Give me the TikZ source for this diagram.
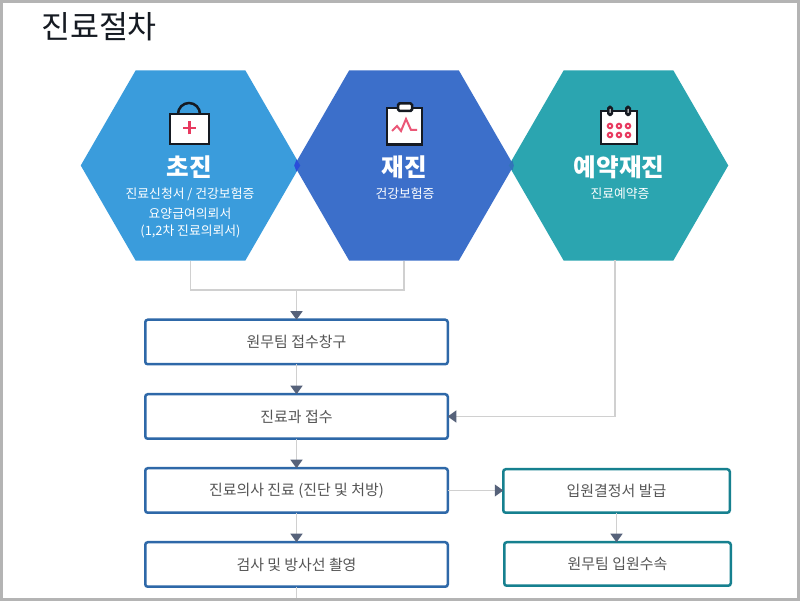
\documentclass[tikz,border=0pt]{standalone}
\usepackage{fontspec}
\setmainfont{Noto Sans CJK KR}
\usepackage{xcolor}
\usepackage{tikz}
\usetikzlibrary{shapes.geometric,arrows.meta}
\definecolor{framec}{HTML}{B4B4B4}
\definecolor{linec}{HTML}{D0D0D0}
\definecolor{tipc}{HTML}{56627A}
\definecolor{textc}{HTML}{555555}
\definecolor{bluec}{HTML}{2E68A8}
\definecolor{tealc}{HTML}{16808F}
\definecolor{hexa}{HTML}{3A9CDC}
\definecolor{hexb}{HTML}{3C6FCA}
\definecolor{hexc}{HTML}{2BA5B0}
\definecolor{iconc}{HTML}{151A22}
\definecolor{redc}{HTML}{E8395F}
\tikzset{hex/.style={regular polygon,regular polygon sides=6,minimum size=4.39cm,inner sep=0,outer sep=0}}
\tikzset{hextitle/.style={text=white,font=\fontsize{14}{16}\selectfont\bfseries,inner sep=0}}
\tikzset{hexsub/.style={text=white,font=\fontsize{7.3}{9}\selectfont,inner sep=0}}
\tikzset{flow/.style={draw=bluec,line width=0.05cm,rounded corners=0.05cm,fill=white,minimum width=6.05cm,minimum height=0.89cm,inner sep=0,outer sep=0,text=textc,font=\fontsize{8.5}{10}\selectfont}}
\tikzset{ward/.style={flow,draw=tealc,minimum width=4.53cm,minimum height=0.87cm}}
\tikzset{conn/.style={draw=linec,line width=0.6pt}}
\tikzset{arr/.style={conn,-{Triangle[color=tipc,length=0.17cm,width=0.24cm]}}}
\tikzset{icon/.style={draw=iconc,line width=0.05cm,fill=white}}

\begin{document}
\begin{tikzpicture}
    \useasboundingbox (0,0) rectangle (16,12.02);
    \fill[framec] (0,0) rectangle (16,12.02);
    \fill[white] (0.06,0.06) rectangle (15.94,11.96);

    \node[text=iconc,font=\fontsize{17.9}{20}\selectfont,inner sep=0] (title)at (1.98,11.49) {진료절차};

    \node[hex,fill=hexa] (chojin)at (3.81,8.71) {};
    \node[hex,fill=hexc] (yeyak)at (12.37,8.71) {};
    \node[hex,fill=hexb] (jaejin)at (8.08,8.71) {};
    \fill[fill=blue!30!hexb] (jaejin.west) -- (5.93,8.83) -- (chojin.east) -- (5.93,8.59) -- cycle;
    \fill[fill=hexb!70!tealc] (yeyak.west) -- (10.25,8.81) -- (jaejin.east) -- (10.25,8.61) -- cycle;

    % bag
    \draw[icon,fill=none] (3.56,9.74) arc[start angle=180,end angle=0,radius=0.22];
    \draw[icon] (3.4,9.14) rectangle (4.18,9.74);
    \draw[redc,line width=0.05cm] (3.66,9.46) -- (3.92,9.46) (3.79,9.33) -- (3.79,9.59);
    % clipboard
    \draw[icon] (7.74,9.13) rectangle (8.44,9.86);
    \draw[icon,rounded corners=0.03cm] (7.96,9.8) rectangle (8.24,9.95);
    \draw[redc!85!white,line width=0.04cm] (7.84,9.4) -- (7.94,9.5) -- (8.02,9.4) -- (8.12,9.64) -- (8.22,9.42) -- (8.34,9.42);
    % calendar
    \draw[icon] (12.02,9.14) rectangle (12.74,9.8);
    \foreach \x in {12.2,12.56}
        \draw[icon,rounded corners=0.03cm] (\x-0.035,9.72) rectangle (\x+0.035,9.88);
    \foreach \x in {12.2,12.38,12.56}
        \foreach \y in {9.32,9.5}
            \draw[redc,line width=0.04cm] (\x,\y) circle (0.045);

    \node[hextitle] (chojint)at (3.79,8.68) {초진};
    \node[hexsub] (chojina)at (3.8,8.14) {진료신청서 / 건강보험증};
    \node[hexsub] (chojinb)at (3.8,7.75) {요양급여의뢰서};
    \node[hexsub] (chojinc)at (3.81,7.39) {(1,2차 진료의뢰서)};
    \node[hextitle] (jaejint)at (8.09,8.68) {재진};
    \node[hexsub] (jaejina)at (8.1,8.14) {건강보험증};
    \node[hextitle] (yeyakt)at (12.38,8.68) {예약재진};
    \node[hexsub] (yeyaka)at (12.4,8.14) {진료예약증};

    \node[flow] (wonmu)at (5.93,5.18) {원무팀 접수창구};
    \node[flow] (jeopsu)at (5.93,3.69) {진료과 접수};
    \node[flow] (jinryo)at (5.93,2.21) {진료의사 진료 (진단 및 처방)};
    \node[flow] (geomsa)at (5.93,0.73) {검사 및 방사선 촬영};
    \node[ward] (ipwon)at (12.33,2.2) {입원결정서 발급};
    \node[ward] (susok)at (12.35,0.74) {원무팀 입원수속};

    \coordinate (merge)at (5.93,6.22);
    \coordinate (yeyakout)at (12.3,6.82);
    \coordinate (bottom)at (5.93,0.06);

    \draw [conn] (chojin.south) |- (merge);
    \draw [conn] (jaejin.south) |- (merge);
    \draw [arr] (merge) to (wonmu.north);
    \draw [arr] (wonmu) to (jeopsu);
    \draw [arr] (jeopsu) to (jinryo);
    \draw [arr] (jinryo) to (geomsa);
    \draw [conn] (geomsa) to (bottom);
    \draw [arr] (yeyakout) |- (jeopsu.east);
    \draw [arr] (jinryo) to (jinryo -| ipwon.west);
    \draw [arr] (ipwon) to (ipwon |- susok.north);
\end{tikzpicture}
\end{document}
